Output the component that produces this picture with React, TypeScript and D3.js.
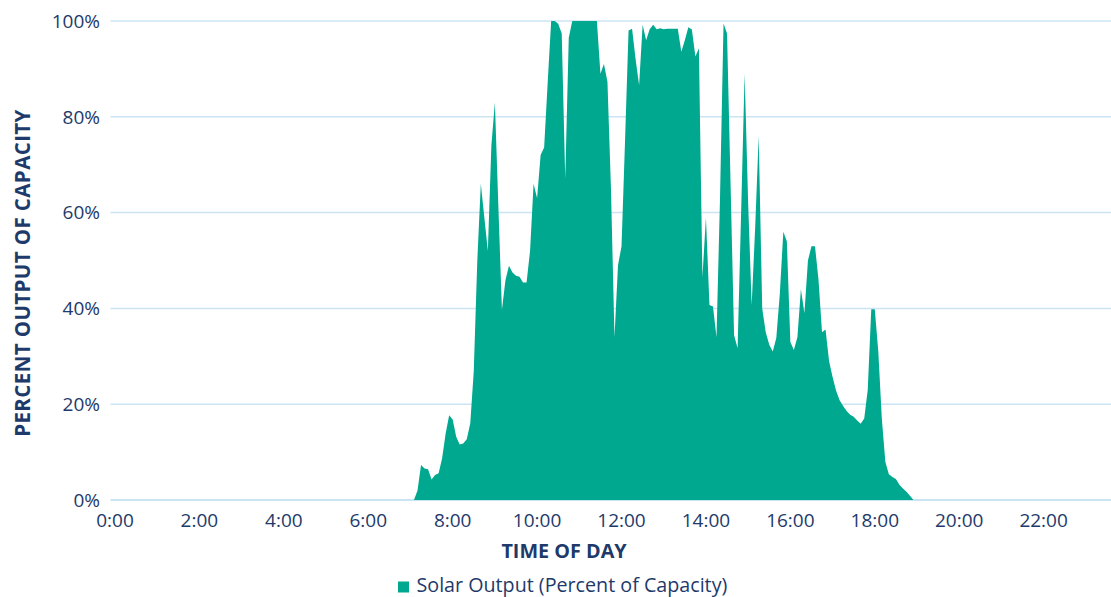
import React from "react";
import * as d3 from "d3";

// Solar output, percent of capacity, 5-minute readings from 7:00 to 19:00
const startMinute = 420;
const stepMinutes = 5;
const solarOutput: number[] = [
  0, 0, 2, 7.3, 6.6, 6.4, 4.3, 5.2, 5.6, 8.7, 13.9, 17.7, // 7:00-7:55
  16.8, 13.2, 11.6, 11.8, 12.7, 16, 27, 50, 66, 59, 52, 74, // 8:00-8:55
  83, 61, 39.7, 45.9, 48.9, 47.5, 46.8, 46.6, 45.4, 45.4, 52, 66, // 9:00-9:55
  63, 72, 73.6, 87, 100, 100, 99.4, 97.4, 67, 96.5, 100, 100, // 10:00-10:55
  100, 100, 100, 100, 100, 100, 89, 91, 87.3, 65, 34, 49, // 11:00-11:55
  53, 75, 98, 98.4, 92, 86.6, 99.2, 96, 98.3, 99.2, 98.3, 98.5, // 12:00-12:55
  98.3, 98.4, 98.4, 98.4, 98.4, 93.6, 96, 98.7, 98.2, 92.6, 94.3, 46.5, // 13:00-13:55
  59, 40.7, 40.4, 34, 63, 99.5, 97.4, 66, 34.4, 31.7, 60, 89, // 14:00-14:55
  62, 40.7, 57, 76, 40, 35, 32.4, 31, 33.8, 43, 56, 54, // 15:00-15:55
  33, 31.3, 34, 44, 39, 50, 53, 53, 46, 35, 35.6, 29, // 16:00-16:55
  25.7, 22.8, 20.8, 19.6, 18.6, 17.8, 17.4, 16.6, 15.9, 17, 23, 39.8, // 17:00-17:55
  39.8, 31, 17, 8, 5.4, 4.8, 4.4, 3.2, 2.4, 1.7, 0.9, 0, // 18:00-18:55
  0, // 19:00
];

const xTickLabels = ["0:00", "2:00", "4:00", "6:00", "8:00", "10:00", "12:00", "14:00", "16:00", "18:00", "20:00", "22:00"];
const yTicks = [0, 20, 40, 60, 80, 100];

const seriesName = "Solar Output (Percent of Capacity)";
const xTitle = "TIME OF DAY";
const yTitle = "PERCENT OUTPUT OF CAPACITY";

const TEAL = "#00A88F";
const NAVY = "#1E3A6A";
const GRID = "#CBE4F3";
const FONT = "'Open Sans', 'Noto Sans', sans-serif";

export default function App() {
  const W = 1111;
  const H = 597;
  const x = d3.scaleLinear().domain([0, 1440]).range([115, 115 + 1440 * 0.7035]);
  const y = d3.scaleLinear().domain([0, 100]).range([500, 21]);

  const points = solarOutput.map((v, i) => ({ t: startMinute + i * stepMinutes, v }));
  const area = d3
    .area<{ t: number; v: number }>()
    .x((d) => x(d.t))
    .y0(y(0))
    .y1((d) => y(d.v))
    .curve(d3.curveLinear);

  const gridLeft = 110.5;
  const gridRight = W;

  return (
    <svg width={W} height={H} style={{ position: "absolute", left: 0, top: 0, background: "#fff" }} fontFamily={FONT}>
      {yTicks.map((t) => (
        <line key={t} x1={gridLeft} x2={gridRight} y1={y(t)} y2={y(t)} stroke={GRID} strokeWidth={t === 0 ? 2 : 1.5} />
      ))}
      <path d={area(points) || ""} fill={TEAL} />
      {yTicks.map((t) => (
        <text key={t} x={100} y={y(t)} dy="0.36em" textAnchor="end" fontSize={19} fill={NAVY}>
          {t}%
        </text>
      ))}
      {xTickLabels.map((lab, i) => (
        <text key={lab} x={x(i * 120)} y={527} textAnchor="middle" fontSize={19} fill={NAVY}>
          {lab}
        </text>
      ))}
      <text x={564} y={558} textAnchor="middle" fontSize={19.8} fontWeight={700} fill={NAVY}>
        {xTitle}
      </text>
      <text
        transform={`translate(30,${273}) rotate(-90)`}
        textAnchor="middle"
        fontSize={20.5}
        letterSpacing={0.4}
        fontWeight={700}
        fill={NAVY}
      >
        {yTitle}
      </text>
      <rect x={398} y={581.5} width={11} height={11} fill={TEAL} />
      <text x={416.5} y={592} fontSize={19.7} fill={NAVY}>
        {seriesName}
      </text>
    </svg>
  );
}
